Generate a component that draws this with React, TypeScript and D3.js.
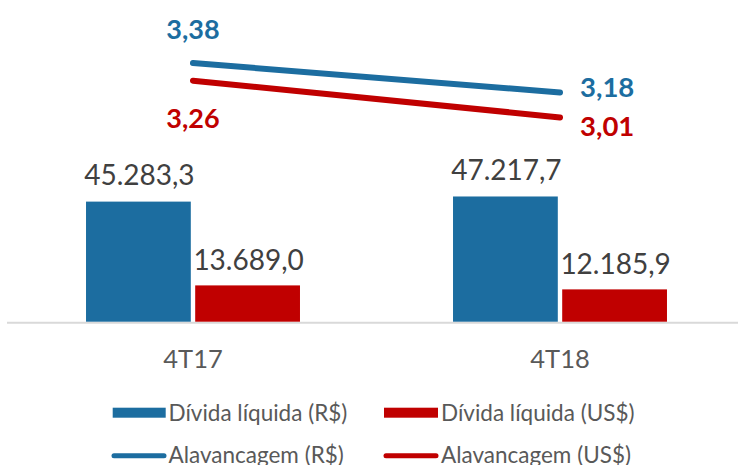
import React from "react";
import * as d3 from "d3";

const categories = ["4T17", "4T18"];
const dividaBRL = [45283.3, 47217.7];
const dividaUSD = [13689.0, 12185.9];
const alavBRL = [3.38, 3.18];
const alavUSD = [3.26, 3.01];
const barLabelsBRL = ["45.283,3", "47.217,7"];
const barLabelsUSD = ["13.689,0", "12.185,9"];
const lineLabelsBRL = ["3,38", "3,18"];
const lineLabelsUSD = ["3,26", "3,01"];
const legendLabels = [
  "Dívida líquida (R$)",
  "Dívida líquida (US$)",
  "Alavancagem (R$)",
  "Alavancagem (US$)",
];

const W = 738;
const H = 465;
const BLUE = "#1C6DA0";
const RED = "#C00000";
const FONT = "Lato, 'Open Sans', sans-serif";

export default function App() {
  const x = d3
    .scaleBand<string>()
    .domain(categories)
    .range([9.5, 743.5])
    .paddingInner(0.417)
    .paddingOuter(0.2085);
  const bw = x.bandwidth();
  const gap = 4.4;
  const barW = (bw - gap) / 2;
  const baseY = 321.7;
  const y = d3.scaleLinear().domain([0, 50000]).range([baseY, baseY - 132.6]);
  const y2 = d3.scaleLinear().domain([3.0, 3.4]).range([118.86, 60.06]);
  const cx = (c: string) => (x(c) as number) + bw / 2;

  const line = d3
    .line<number>()
    .x((_, i) => cx(categories[i]))
    .y((d) => y2(d));

  return (
    <svg
      width={W}
      height={H}
      style={{ position: "absolute", left: 0, top: 0, background: "#fff" }}
      fontFamily={FONT}
    >
      {/* axis line */}
      <line x1={7} x2={738} y1={baseY + 1} y2={baseY + 1} stroke="#D9D9D9" strokeWidth={2} />

      {/* bars */}
      {categories.map((c, i) => {
        const x0 = x(c) as number;
        return (
          <g key={c}>
            <rect
              x={x0}
              y={y(dividaBRL[i])}
              width={barW}
              height={baseY - y(dividaBRL[i])}
              fill={BLUE}
            />
            <rect
              x={x0 + barW + gap}
              y={y(dividaUSD[i])}
              width={barW}
              height={baseY - y(dividaUSD[i])}
              fill={RED}
            />
            <text
              x={x0 + barW / 2 + 1}
              y={y(dividaBRL[i]) - 16.5}
              textAnchor="middle"
              fontSize={28}
              fill="#404040"
            >
              {barLabelsBRL[i]}
            </text>
            <text
              x={x0 + barW + gap + barW / 2 + 1}
              y={y(dividaUSD[i]) - 15}
              textAnchor="middle"
              fontSize={28}
              fill="#404040"
            >
              {barLabelsUSD[i]}
            </text>
            <text
              x={cx(c)}
              y={368.3}
              textAnchor="middle"
              fontSize={25.5}
              fill="#595959"
            >
              {c}
            </text>
          </g>
        );
      })}

      {/* lines */}
      <path d={line(alavBRL) || ""} fill="none" stroke={BLUE} strokeWidth={6} strokeLinecap="round" />
      <path d={line(alavUSD) || ""} fill="none" stroke={RED} strokeWidth={6} strokeLinecap="round" />

      {/* line labels */}
      <text x={cx(categories[0])} y={y2(alavBRL[0]) - 23.7} textAnchor="middle" fontSize={27} fontWeight="bold" fill={BLUE}>
        {lineLabelsBRL[0]}
      </text>
      <text x={cx(categories[0])} y={y2(alavUSD[0]) + 47} textAnchor="middle" fontSize={27} fontWeight="bold" fill={RED}>
        {lineLabelsUSD[0]}
      </text>
      <text x={cx(categories[1]) + 20} y={y2(alavBRL[1]) + 4.5} textAnchor="start" fontSize={27.5} fontWeight="bold" fill={BLUE}>
        {lineLabelsBRL[1]}
      </text>
      <text x={cx(categories[1]) + 20} y={y2(alavUSD[1]) + 18.5} textAnchor="start" fontSize={27.5} fontWeight="bold" fill={RED}>
        {lineLabelsUSD[1]}
      </text>

      {/* legend */}
      <g>
        <rect x={112.7} y={407.7} width={53} height={10} fill={BLUE} />
        <text x={168.5} y={420.5} fontSize={22.5} fill="#595959">{legendLabels[0]}</text>
        <rect x={384} y={407.7} width={54} height={10} fill={RED} />
        <text x={441} y={420.5} fontSize={22.5} fill="#595959">{legendLabels[1]}</text>
        <line x1={114} x2={164} y1={455.7} y2={455.7} stroke={BLUE} strokeWidth={5} strokeLinecap="round" />
        <text x={168.5} y={462.5} fontSize={22.5} fill="#595959">{legendLabels[2]}</text>
        <line x1={386} x2={436} y1={455.7} y2={455.7} stroke={RED} strokeWidth={5} strokeLinecap="round" />
        <text x={441} y={462.5} fontSize={22.5} fill="#595959">{legendLabels[3]}</text>
      </g>
    </svg>
  );
}
